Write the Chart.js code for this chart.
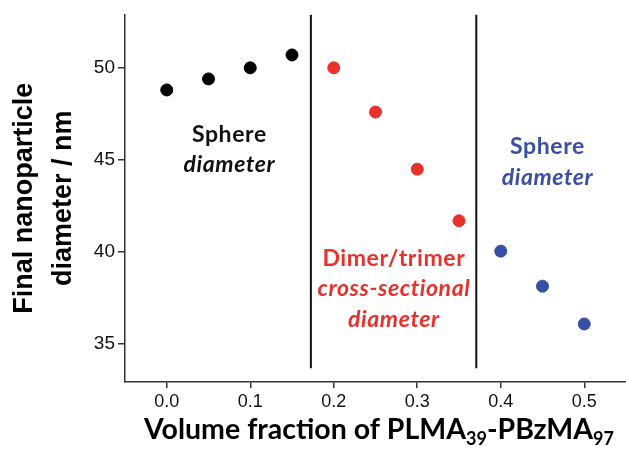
<!DOCTYPE html>
<html>
<head>
<meta charset="utf-8">
<script src="https://cdn.jsdelivr.net/npm/chart.js@4.4.1/dist/chart.umd.min.js"></script>
<style>
  html, body { margin: 0; padding: 0; background: #fff; }
  #wrap { width: 626px; height: 452px; }
</style>
</head>
<body>
<div id="wrap"><canvas id="myChart"></canvas></div>
<script>
// values
var sphereX = [0.0, 0.05, 0.10, 0.15]
var sphereY = [48.8, 49.4, 50.0, 50.7]
var dimerX = [0.20, 0.25, 0.30, 0.35]
var dimerY = [50.0, 47.6, 44.5, 41.7]
var bigSphereX = [0.40, 0.45, 0.50]
var bigSphereY = [40.05, 38.15, 36.1]
var dividerX = [0.1726, 0.3707]
var dividerY = [52.9, 33.7]
var yTicks = [35, 40, 45, 50]
var xTicks = [0.0, 0.1, 0.2, 0.3, 0.4, 0.5]

function pts(xs, ys) {
  return xs.map((x, i) => ({x: x, y: ys[i]}))
}

var sets = [
  {data: pts(sphereX, sphereY), color: '#000000'},
  {data: pts(dimerX, dimerY), color: '#e8312b'},
  {data: pts(bigSphereX, bigSphereY), color: '#3650a6'}
].map(s => ({
  data: s.data,
  backgroundColor: s.color,
  borderColor: s.color,
  pointRadius: 6,
  pointHoverRadius: 6,
  showLine: false
}))

dividerX.forEach(function(dx) {
  sets.push({
    data: dividerY.map(y => ({x: dx, y: y})),
    showLine: true,
    borderColor: '#111',
    borderWidth: 2,
    pointRadius: 0
  })
})

// region captions, placed in data coordinates
var captions = [
  {x: 0.075, y: 46.4, color: '#111', lines: [['Sphere', ''], ['diameter', 'italic ']]},
  {x: 0.272, y: 39.65, color: '#e8312b', lines: [['Dimer/trimer', ''], ['cross-sectional', 'italic '], ['diameter', 'italic ']]},
  {x: 0.456, y: 45.7, color: '#3a4ea6', lines: [['Sphere', ''], ['diameter', 'italic ']]}
]

var drawExtras = {
  id: 'drawExtras',
  afterDatasetsDraw(chart) {
    var ctx = chart.ctx
    var xs = chart.scales.x, ys = chart.scales.y
    ctx.save()
    ctx.textAlign = 'center'
    ctx.textBaseline = 'middle'
    ctx.letterSpacing = '0.6px'
    captions.forEach(function(c) {
      var px = xs.getPixelForValue(c.x)
      var py = ys.getPixelForValue(c.y)
      ctx.fillStyle = c.color
      c.lines.forEach(function(l, i) {
        ctx.font = l[1] + 'bold 23px Lato'
        ctx.fillText(l[0], px, py + i * 30.5)
      })
    })
    ctx.letterSpacing = '0px'

    // x axis title with subscripts
    var parts = [['Volume fraction of PLMA', 0], ['39', 1], ['-PBzMA', 0], ['97', 1]]
    var big = 'bold 28.5px Lato', small = 'bold 18px Lato'
    var total = 0
    parts.forEach(function(p) { ctx.font = p[1] ? small : big; total += ctx.measureText(p[0]).width })
    var cx = 379 - total / 2
    ctx.textAlign = 'left'
    ctx.textBaseline = 'alphabetic'
    ctx.fillStyle = '#000'
    parts.forEach(function(p) {
      ctx.font = p[1] ? small : big
      ctx.fillText(p[0], cx, 439 + (p[1] ? 6 : 0))
      cx += ctx.measureText(p[0]).width
    })
    ctx.restore()
  }
}

var ctx = document.getElementById('myChart').getContext('2d')
var chart = new Chart(ctx, {
  type: 'scatter',
  data: {datasets: sets},
  plugins: [drawExtras],
  options: {
    responsive: true,
    maintainAspectRatio: false,
    animation: false,
    layout: {autoPadding: false, padding: {top: 12, right: 0, left: 0, bottom: 0}},
    plugins: {legend: {display: false}, tooltip: {enabled: false}},
    scales: {
      x: {
        type: 'linear',
        min: -0.05,
        max: 0.55,
        afterBuildTicks: function(s) { s.ticks = xTicks.map(v => ({value: v})) },
        afterFit: function(s) { s.height = 70 },
        grid: {display: true, drawOnChartArea: false, drawTicks: true, tickLength: 6, color: '#333', lineWidth: 1.5},
        border: {display: true, color: '#333', width: 1.5},
        ticks: {
          color: '#111',
          padding: 3,
          maxRotation: 0,
          font: {family: 'Liberation Sans', size: 18},
          callback: v => v.toFixed(1)
        }
      },
      y: {
        min: 32.95,
        max: 52.9,
        afterBuildTicks: function(s) { s.ticks = yTicks.map(v => ({value: v})) },
        afterFit: function(s) { s.width = 125 },
        grid: {display: true, drawOnChartArea: false, drawTicks: true, tickLength: 7, color: '#333', lineWidth: 1.5},
        border: {display: true, color: '#333', width: 1.5},
        ticks: {
          color: '#111',
          padding: 3,
          font: {family: 'Liberation Sans', size: 19}
        },
        title: {
          display: true,
          text: ['Final nanoparticle', 'diameter / nm'],
          color: '#000',
          padding: {top: 5, bottom: 0},
          font: {family: 'Liberation Sans', weight: 'bold', size: 27, lineHeight: 1.44}
        }
      }
    }
  }
})
</script>
</body>
</html>
